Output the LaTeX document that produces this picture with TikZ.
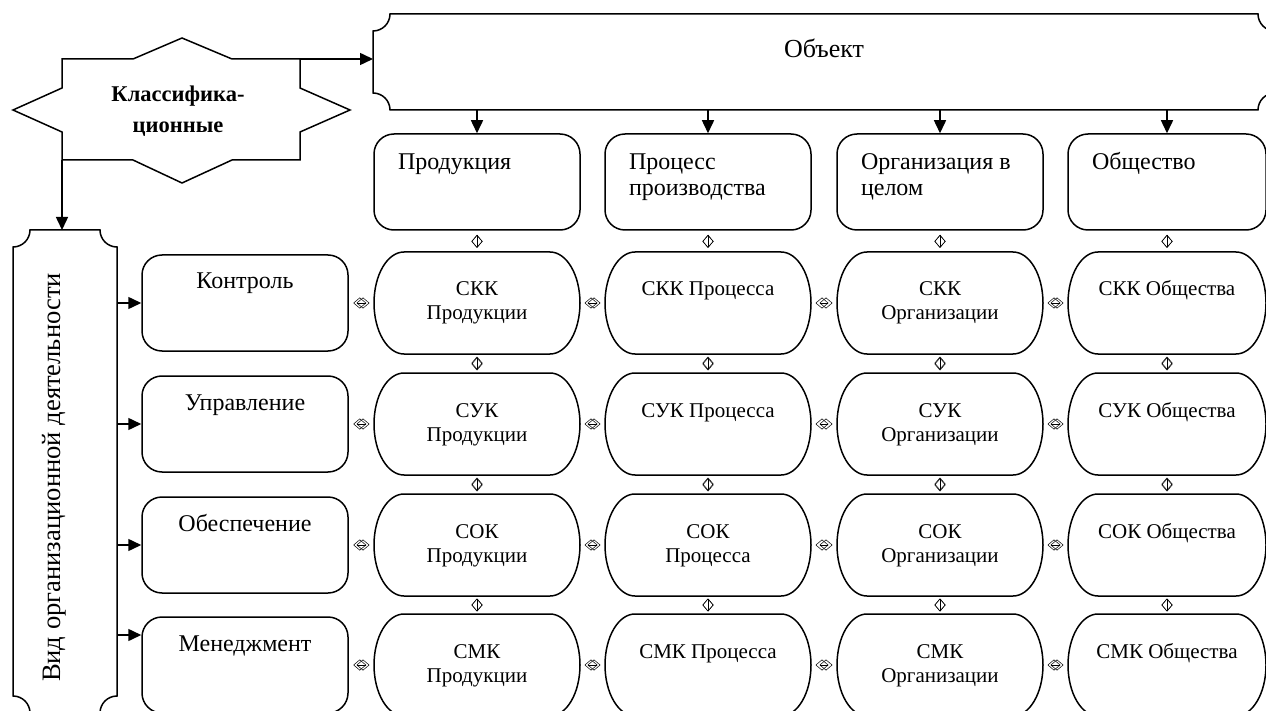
\documentclass[tikz,border=0pt]{standalone}
\usepackage{fontspec}
\usepackage{graphicx}
\setmainfont{Liberation Serif}
\usetikzlibrary{arrows.meta}

% box with inward corners
\newcommand{\notchbox}[2]{%
	\draw ([xshift=#2]#1.north west) -- ([xshift=-#2]#1.north east)
		arc[start angle=180, end angle=270, radius=#2] -- ([yshift=#2]#1.south east)
		arc[start angle=90, end angle=180, radius=#2] -- ([xshift=#2]#1.south west)
		arc[start angle=0, end angle=90, radius=#2] -- ([yshift=-#2]#1.north west)
		arc[start angle=270, end angle=360, radius=#2] -- cycle;}
% oval cell of the matrix
\newcommand{\stadium}[1]{%
	\draw ([xshift=30pt]#1.north west) -- ([xshift=-30pt]#1.north east)
		arc[start angle=90, end angle=-90, x radius=30pt, y radius=51pt] -- ([xshift=30pt]#1.south west)
		arc[start angle=270, end angle=90, x radius=30pt, y radius=51pt] -- cycle;}
\newcommand{\ctext}[2][206pt]{\parbox[t]{#1}{\centering #2}}
\newcommand{\ltext}[2][158pt]{\parbox[t]{#1}{\raggedright #2}}

\begin{document}
\begin{tikzpicture}[x=1pt, y=-1pt, line width=1.5pt,
		arr/.style={-{Triangle[length=13pt, width=12pt]}},
		dia/.style={{Diamond[open, length=13pt, width=11pt]}-{Diamond[open, length=13pt, width=11pt]}, line width=0.5pt},
		topbox/.style={draw, rounded corners=20pt, inner xsep=24pt, inner ysep=0pt, text height=36pt, text depth=60pt, font=\fontsize{24}{26}\selectfont},
		actbox/.style={draw, rounded corners=20pt, minimum width=206pt, inner sep=0pt, text height=34pt, text depth=62pt, font=\fontsize{24}{26}\selectfont},
		cell/.style={inner sep=0pt, outer sep=0pt, text height=44pt, text depth=58pt, font=\fontsize{21}{24}\selectfont}]
		\useasboundingbox (0,0) rectangle (1266,711);
		% star
		\draw (182,38) -- (232,59) -- (300,59) -- (300,88) -- (350,110) -- (300,132) -- (300,160) -- (232,160) -- (182,183) -- (133,160) -- (62,160) -- (62,132) -- (13,110) -- (62,88) -- (62,59) -- (133,59) -- cycle;
		\node[font=\bfseries\fontsize{22.5}{31}\selectfont, align=center] (klass) at (178,111) {Классифика-\\ционные};
		\coordinate (kout) at (300,59);
		\coordinate (kdown) at (62,160);
		% object and kind of activity
		\node[inner sep=0pt, outer sep=0pt, minimum width=902pt, text height=44pt, text depth=52pt, font=\fontsize{26}{30}\selectfont] (obj) at (824,62) {Объект};
		\notchbox{obj}{17pt}
		\node[inner sep=0pt, outer sep=0pt, minimum width=104pt, minimum height=483pt, font=\fontsize{26.6}{30}\selectfont] (vid) at (65,471.5) {\rotatebox{90}{Вид организационной деятельности\hspace{12pt}}\hspace{22pt}\null};
		\notchbox{vid}{17pt}
		\draw[arr] (kout) -- (kout -| obj.west);
		\draw[arr] (kdown) -- (kdown |- vid.north);
		% columns
		\node[topbox] (t1) at (477,182) {\ltext{Продукция}};
		\node[topbox] (t2) at (708,182) {\ltext{Процесс\\производства}};
		\node[topbox] (t3) at (940,182) {\ltext{Организация в\\целом}};
		\node[topbox] (t4) at (1167,182) {\ltext[150pt]{Общество}};
		\foreach \c in {1,...,4}
			\draw[arr] (t\c.north |- obj.south) -- (t\c.north);
		% rows
		\foreach \r/\s/\y/\act/\colb in {1/СКК/303/Контроль/СКК Процесса, 2/СУК/424/Управление/СУК Процесса, 3/СОК/545/Обеспечение/СОК\\Процесса, 4/СМК/665/Менеджмент/СМК Процесса}{
			\node[actbox] (a\r) at (245,\y) {\act};
			\node[cell] (s\r1) at (477,\y) {\ctext{\s\\Продукции}};
			\node[cell] (s\r2) at (708,\y) {\ctext{\colb}};
			\node[cell] (s\r3) at (940,\y) {\ctext{\s\\Организации}};
			\node[cell] (s\r4) at (1167,\y) {\ctext[198pt]{\s\ Общества}};
			\foreach \c in {1,...,4} {
				\stadium{s\r\c}
			}
		}
		\foreach \r in {1,2,3}
			\draw[arr] (vid.east |- a\r.west) -- (a\r.west);
		\coordinate (a4in) at ([yshift=30pt]a4.west);
		\draw[arr] (vid.east |- a4in) -- (a4in);
		% links
		\foreach \c in {1,...,4} {
			\draw[dia, shorten <=4pt, shorten >=4pt] (t\c.south) -- (s1\c.north);
			\foreach \r/\n in {1/2,2/3,3/4}
				\draw[dia, shorten <=2.5pt, shorten >=2.5pt] (s\r\c.south) -- (s\n\c.north);
		}
		\foreach \r in {1,...,4} {
			\draw[dia, shorten <=4.5pt, shorten >=4.5pt] (a\r.east) -- (s\r1.west);
			\foreach \c/\n in {1/2,2/3,3/4}
				\draw[dia, shorten <=4.5pt, shorten >=4.5pt] (s\r\c.east) -- (s\r\n.west);
		}
\end{tikzpicture}
\end{document}
